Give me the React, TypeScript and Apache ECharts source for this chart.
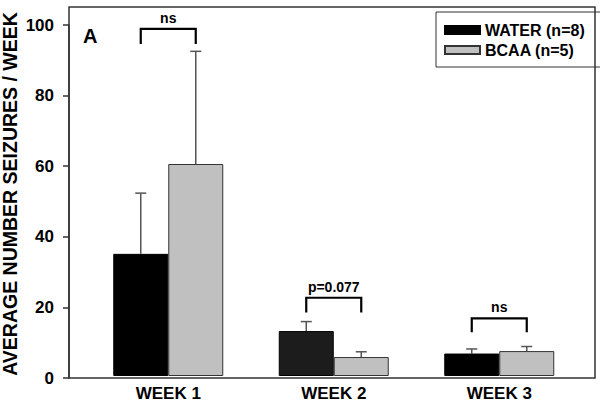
import React, { useEffect, useRef } from "react";
import * as echarts from "echarts";

const categories = ["WEEK 1", "WEEK 2", "WEEK 3"];
const seriesNames = ["WATER (n=8)", "BCAA (n=5)"];
const waterMean = [34.8, 12.8, 6.4];
const waterErr = [17.3, 2.7, 1.3];
const bcaaMean = [60.4, 5.4, 7.1];
const bcaaErr = [32.1, 1.5, 1.3];
const bracketTop = [98.9, 22.3, 16.4];
const bracketBottom = [94.6, 18.1, 12.5];
const bracketLabels = ["ns", "p=0.077", "ns"];
const yTicks = [0, 20, 40, 60, 80, 100];

const FONT = "Arial, 'Liberation Sans', Helvetica, sans-serif";
const BAR_W = 55;

export default function App() {
  const ref = useRef<HTMLDivElement>(null);
  useEffect(() => {
    if (!ref.current) return;
    const chart = echarts.init(ref.current, undefined, { renderer: "svg" });

    const errData = (means: number[], errs: number[]) =>
      means.map((m, i) => [i, m, m + errs[i]]);

    const errSeries = (means: number[], errs: number[], side: number, name: string) => ({
      type: "custom",
      name: name + " err",
      xAxisIndex: 1,
      yAxisIndex: 1,
      z: 1,
      silent: true,
      data: errData(means, errs),
      renderItem: (params: any, api: any) => {
        const base = api.coord([api.value(0), api.value(1)]);
        const top = api.coord([api.value(0), api.value(2)]);
        const x = base[0] + side * (BAR_W / 2);
        const style = { stroke: "#555", lineWidth: 1.5 };
        return {
          type: "group",
          children: [
            { type: "line", shape: { x1: x, y1: base[1], x2: x, y2: top[1] }, style },
            { type: "line", shape: { x1: x - 5.5, y1: top[1], x2: x + 5.5, y2: top[1] }, style },
          ],
        };
      },
    });

    const option: any = {
      animation: false,
      backgroundColor: "#fff",
      textStyle: { fontFamily: FONT },
      grid: [
        { left: 69, top: 25, width: 526, height: 353 },
        { left: 85.5, top: 25, width: 496.5, height: 353 },
      ],
      xAxis: [
        { type: "value", gridIndex: 0, show: false, min: 0, max: 1 },
        {
          type: "category",
          gridIndex: 1,
          data: categories,
          axisLine: { show: false },
          axisTick: { show: false },
          axisLabel: {
            margin: 9,
            color: "#000",
            fontWeight: "bold",
            fontSize: 17,
            fontFamily: FONT,
          },
        },
      ],
      yAxis: [
        {
          type: "value",
          gridIndex: 0,
          min: yTicks[0],
          max: yTicks[yTicks.length - 1],
          interval: 20,
          splitLine: { show: false },
          axisLine: { show: true, lineStyle: { color: "#333", width: 1.5 } },
          axisTick: { show: true, length: 6, lineStyle: { color: "#333", width: 1.5 } },
          axisLabel: {
            margin: 15,
            color: "#000",
            fontWeight: "bold",
            fontSize: 17,
            fontFamily: FONT,
          },
        },
        { type: "value", gridIndex: 1, min: 0, max: 100, show: false },
      ],
      legend: {
        orient: "vertical",
        left: 436,
        top: 12,
        padding: [10, 18, 9, 8],
        itemGap: 4,
        itemWidth: 35,
        itemHeight: 8,
        borderColor: "#333",
        borderWidth: 1,
        backgroundColor: "#fff",
        icon: "rect",
        selectedMode: false,
        textStyle: { fontSize: 16, fontWeight: "bold", color: "#000", fontFamily: FONT },
        data: seriesNames,
      },
      series: [
        {
          type: "bar",
          name: seriesNames[0],
          xAxisIndex: 1,
          yAxisIndex: 1,
          barWidth: BAR_W,
          barGap: "0%",
          z: 2,
          itemStyle: { color: "#000", borderColor: "#000", borderWidth: 1 },
          data: waterMean.map((v, i) =>
            i === 1 ? { value: v, itemStyle: { color: "#1c1c1c" } } : v
          ),
        },
        {
          type: "bar",
          name: seriesNames[1],
          xAxisIndex: 1,
          yAxisIndex: 1,
          barWidth: BAR_W,
          barGap: "0%",
          z: 2,
          itemStyle: { color: "#c0c0c0", borderColor: "#333", borderWidth: 1 },
          data: bcaaMean,
        },
        errSeries(waterMean, waterErr, -1, seriesNames[0]),
        errSeries(bcaaMean, bcaaErr, 1, seriesNames[1]),
        {
          type: "custom",
          name: "brackets",
          xAxisIndex: 1,
          yAxisIndex: 1,
          silent: true,
          z: 3,
          data: categories.map((_, i) => [i, bracketTop[i], bracketBottom[i]]),
          renderItem: (params: any, api: any) => {
            const i = params.dataIndex;
            const t = api.coord([api.value(0), api.value(1)]);
            const b = api.coord([api.value(0), api.value(2)]);
            const xl = t[0] - BAR_W / 2;
            const xr = t[0] + BAR_W / 2;
            return {
              type: "group",
              children: [
                {
                  type: "polyline",
                  shape: { points: [[xl, b[1]], [xl, t[1]], [xr, t[1]], [xr, b[1]]] },
                  style: { stroke: "#000", lineWidth: 2.2, fill: "none" },
                },
                {
                  type: "text",
                  x: t[0],
                  y: t[1] - 4,
                  style: {
                    text: bracketLabels[i],
                    align: "center",
                    verticalAlign: "bottom",
                    fontSize: 14,
                    fontWeight: "bold",
                    fontFamily: FONT,
                    fill: "#000",
                  },
                },
              ],
            };
          },
        },
      ],
      graphic: [
        {
          type: "rect",
          shape: { x: 69, y: 7, width: 526, height: 371 },
          style: { fill: "none", stroke: "#333", lineWidth: 1.5 },
          z: 10,
          silent: true,
        },
        {
          type: "text",
          x: 83,
          y: 36,
          style: {
            text: "A",
            fontSize: 20,
            fontWeight: "bold",
            fontFamily: FONT,
            fill: "#000",
            align: "left",
            verticalAlign: "middle",
          },
        },
        {
          type: "text",
          x: 10,
          y: 194,
          rotation: Math.PI / 2,
          style: {
            text: "AVERAGE NUMBER SEIZURES / WEEK",
            fontSize: 19.5,
            fontWeight: "bold",
            fontFamily: FONT,
            fill: "#000",
            align: "center",
            verticalAlign: "middle",
          },
        },
      ],
    };
    chart.setOption(option);
    return () => chart.dispose();
  }, []);
  return (
    <div
      ref={ref}
      style={{ position: "fixed", left: 0, top: 0, width: 600, height: 402, background: "#fff" }}
    />
  );
}
